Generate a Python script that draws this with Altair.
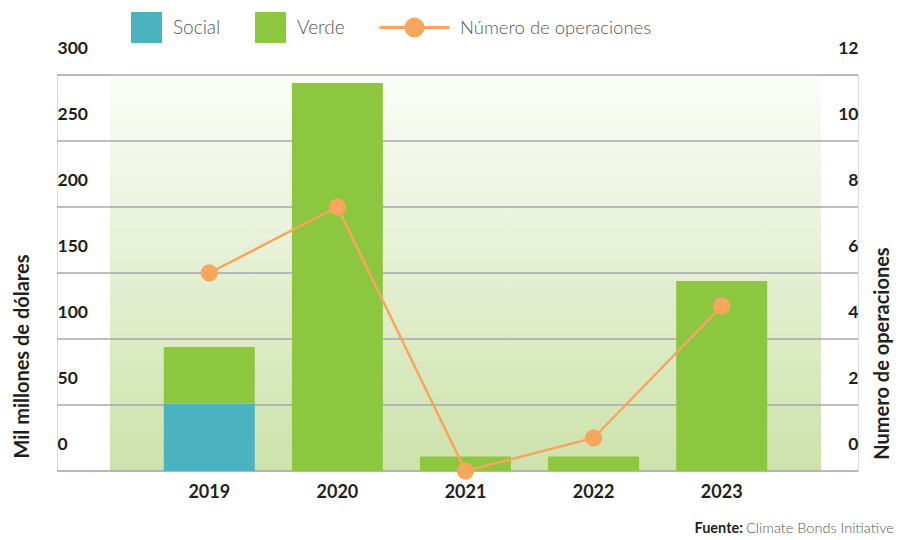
import altair as alt
import pandas as pd

years = ["2019", "2020", "2021", "2022", "2023"]
social = [51, 0, 0, 0, 0]
verde = [43, 294, 11, 11, 144]
operaciones = [6, 8, 0, 1, 5]
left_ticks = [0, 50, 100, 150, 200, 250, 300]
right_ticks = [0, 2, 4, 6, 8, 10, 12]

FONT = "Lato"
DARK = "#231f20"
GREY_TXT = "#58595b"
GRID = "#a7a6b5"
ORANGE = "#f8a55d"

bars_df = pd.DataFrame(
    [{"anio": y, "tipo": "Social", "valor": s, "orden": 0} for y, s in zip(years, social)]
    + [{"anio": y, "tipo": "Verde", "valor": v, "orden": 1} for y, v in zip(years, verde)]
)
line_df = pd.DataFrame({"anio": years, "ops": operaciones, "serie": ["Número de operaciones"] * len(years)})
grid_df = pd.DataFrame({"v": left_ticks})
one = pd.DataFrame({"a": [0]})

W, H = 801, 396

xscale = alt.Scale(domain=years, range=[53, 764], paddingInner=0.29, paddingOuter=0.42)
xaxis = alt.Axis(title=None, domain=False, ticks=False, tickSize=0, labelPadding=12,
                 labelAngle=0, labelFont=FONT, labelFontWeight="bold", labelFontSize=18,
                 labelColor=DARK)
yl_scale = alt.Scale(domain=[0, 300], nice=False, zero=True)
yr_scale = alt.Scale(domain=[0, 12], nice=False, zero=True)

bg = alt.Chart(one).mark_rect(
    fill=alt.Gradient(gradient="linear", x1=0, x2=0, y1=0, y2=1,
                      stops=[alt.GradientStop(offset=0, color="#fbfdf8"),
                             alt.GradientStop(offset=1, color="#cde2ab")])
).encode(
    x=alt.value(53), x2=alt.value(764),
    y=alt.Y("a:Q", scale=yl_scale, axis=None), y2=alt.datum(300),
)

rules = alt.Chart(grid_df).mark_rule(color=GRID, strokeWidth=1.5).encode(
    y=alt.Y("v:Q", scale=yl_scale, axis=None)
)

bars = alt.Chart(bars_df).mark_bar().encode(
    x=alt.X("anio:N", scale=xscale, axis=xaxis, sort=years),
    y=alt.Y("valor:Q", stack="zero", scale=yl_scale,
            axis=alt.Axis(title="Mil millones de dólares", values=left_ticks, grid=False,
                          domain=False, ticks=False, tickSize=0, labelPadding=0,
                          labelAlign="left", labelBaseline="middle", labelOffset=-27,
                          labelFont=FONT, labelFontWeight="bold", labelFontSize=17.5,
                          labelColor=DARK, titleX=-35, titleY=281, titleAngle=270,
                          titleAlign="center", titleBaseline="middle", titleFont=FONT,
                          titleFontWeight="bold", titleFontSize=20, titleColor=DARK)),
    color=alt.Color("tipo:N", scale=alt.Scale(domain=["Social", "Verde"], range=["#4bb3bf", "#8dc63f"]),
                    legend=alt.Legend(title=None, orient="none", legendX=74, legendY=-63,
                                      direction="horizontal", symbolType="square",
                                      symbolSize=961, symbolStrokeWidth=0, symbolOpacity=1,
                                      labelFont=FONT, labelFontWeight=300, labelFontSize=19,
                                      labelColor=GREY_TXT, labelOffset=11, columnPadding=34,
                                      labelLimit=400, padding=0)),
    order=alt.Order("orden:Q"),
)

line_legend_path = "M-3.5,0L3.5,0M0.85,0A0.85,0.85,0,1,1,-0.85,0A0.85,0.85,0,1,1,0.85,0Z"
line = alt.Chart(line_df).mark_line(strokeWidth=2.5).encode(
    x=alt.X("anio:N", scale=xscale, sort=years),
    y=alt.Y("ops:Q", scale=yr_scale,
            axis=alt.Axis(title="Numero de operaciones", orient="right", values=right_ticks,
                          grid=False, domain=False, ticks=False, tickSize=0, labelPadding=0,
                          labelAlign="right", labelBaseline="middle", labelOffset=-27,
                          labelFont=FONT, labelFontWeight="bold", labelFontSize=17.5,
                          labelColor=DARK, titleX=24, titleY=278, titleAngle=270,
                          titleAlign="center", titleBaseline="middle", titleFont=FONT,
                          titleFontWeight="bold", titleFontSize=20, titleColor=DARK)),
    stroke=alt.Stroke("serie:N", scale=alt.Scale(range=[ORANGE]),
                      legend=alt.Legend(title=None, orient="none", legendX=346, legendY=-59,
                                        symbolType=line_legend_path, symbolSize=400,
                                        symbolFillColor=ORANGE, symbolStrokeColor=ORANGE,
                                        symbolStrokeWidth=3, symbolOpacity=1,
                                        labelFont=FONT, labelFontWeight=300, labelFontSize=18.5,
                                        labelColor=GREY_TXT, labelOffset=34, labelLimit=400,
                                        padding=0)),
)

points = alt.Chart(line_df).mark_circle(size=300, opacity=1, color=ORANGE).encode(
    x=alt.X("anio:N", scale=xscale, sort=years),
    y=alt.Y("ops:Q", scale=yr_scale, axis=None),
)

src1 = alt.Chart(one).mark_text(text="Fuente:", font=FONT, fontWeight="bold", fontSize=14.5,
                                color=DARK, align="right", baseline="middle").encode(
    x=alt.value(686), y=alt.value(454))
src2 = alt.Chart(one).mark_text(text="Climate Bonds Initiative", font=FONT, fontWeight=300,
                                fontSize=14.5, color=GREY_TXT, align="left",
                                baseline="middle").encode(
    x=alt.value(689), y=alt.value(454))

chart = alt.layer(bg, rules, bars, line, points, src1, src2).resolve_scale(
    y="independent", color="independent", stroke="independent"
).properties(
    width=W, height=H,
    autosize=alt.AutoSizeParams(type="none"),
    padding={"left": 49, "top": 67, "right": 37, "bottom": 68},
).configure_view(stroke=None).configure(background="white")

chart.save("out.html", embed_options={"renderer": "svg", "actions": False})
